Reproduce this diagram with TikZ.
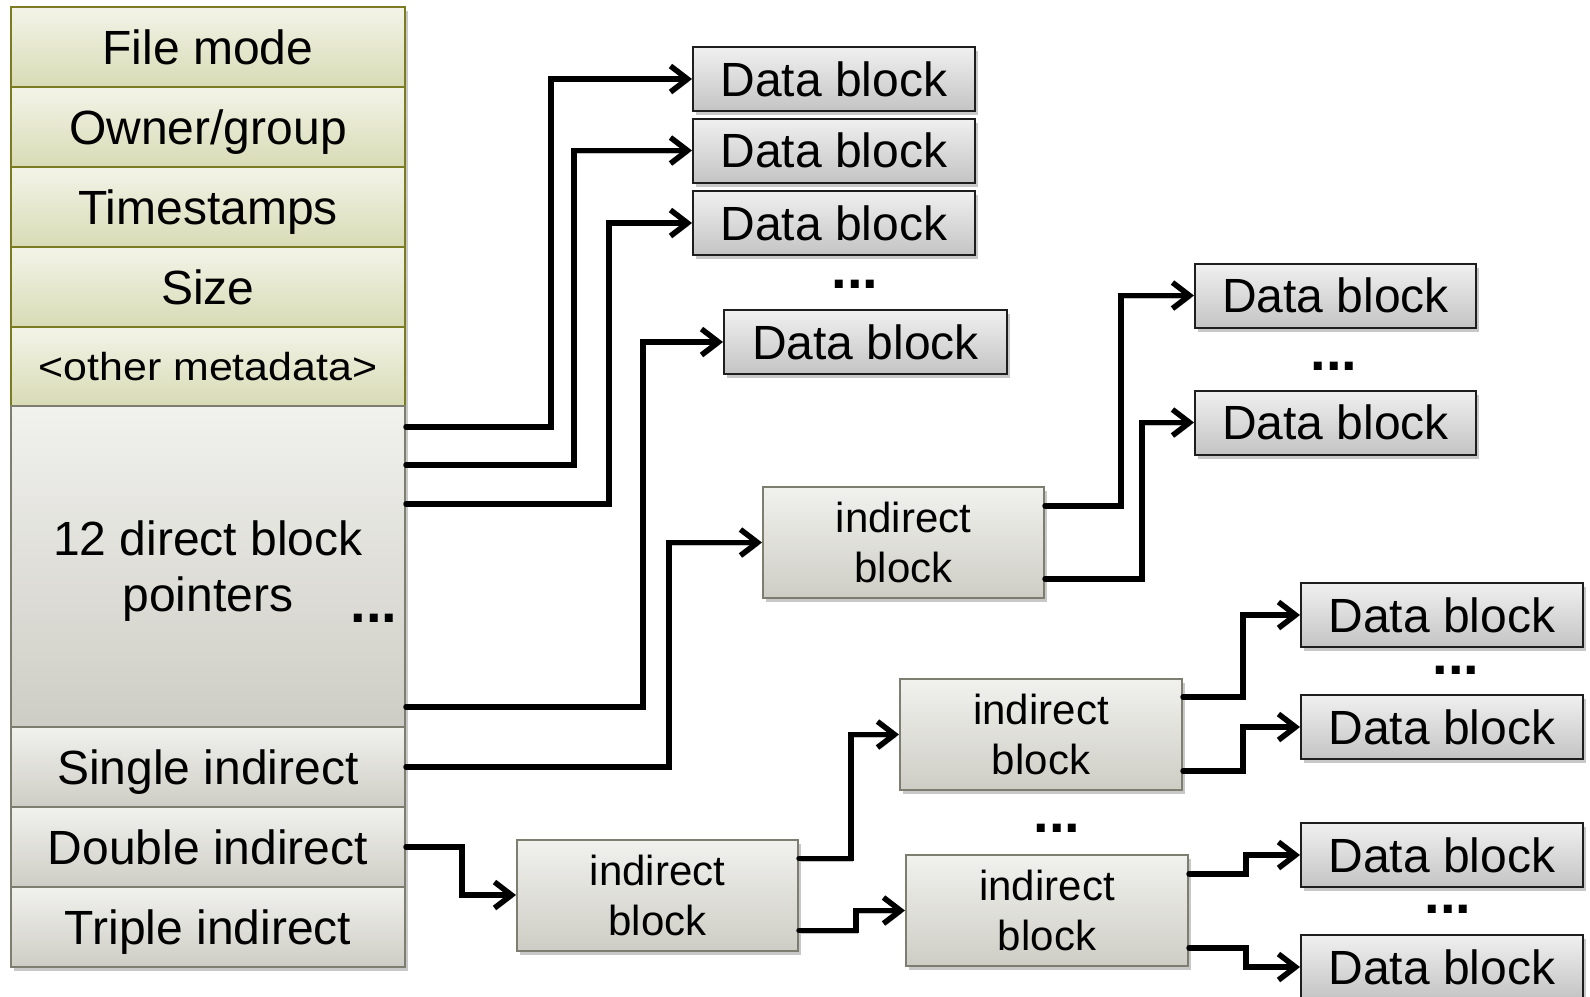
\documentclass[tikz,border=0pt]{standalone}
\usepackage{fontspec}
\usepackage{graphicx}
\setmainfont{Liberation Sans}
\usetikzlibrary{arrows.meta,shadows,calc}
\definecolor{grnTop}{HTML}{F3F4E8}
\definecolor{grnBot}{HTML}{D8DBB5}
\definecolor{grnLine}{HTML}{7B7B22}
\definecolor{gryTop}{HTML}{F1F1EE}
\definecolor{gryBot}{HTML}{CECDC5}
\definecolor{gryLine}{HTML}{7D7D70}
\definecolor{dbTop}{HTML}{F0F0F0}
\definecolor{dbBot}{HTML}{C4C4C4}
\definecolor{dbLine}{HTML}{1E1E1E}
\tikzset{
  bigfont/.style={font=\fontsize{48}{57}\selectfont},
  shad/.style={drop shadow={shadow xshift=3pt, shadow yshift=-4pt, opacity=0.3, fill=black!70}},
  row/.style={line width=2pt, minimum width=394pt, inner sep=0pt, bigfont, text height=34pt, text depth=0pt, shad},
  greenrow/.style={row, draw=grnLine, top color=grnTop, bottom color=grnBot, minimum height=80pt},
  grayrow/.style={row, draw=gryLine, top color=gryTop, bottom color=gryBot, minimum height=80pt},
  datablock/.style={draw=dbLine, line width=2pt, top color=dbTop, bottom color=dbBot, minimum width=282pt, minimum height=64pt, inner sep=0pt, bigfont, text height=34pt, text depth=0pt, shad},
  indblock/.style={draw=gryLine, line width=2pt, top color=gryTop, bottom color=gryBot, minimum width=281pt, minimum height=111pt, inner sep=0pt, align=center, font=\fontsize{42}{50}\selectfont, shad},
  dotstext/.style={inner sep=0pt, font=\fontsize{56}{60}\selectfont\bfseries},
  conn/.style={line width=5.5pt, line cap=round, line join=miter, -{Straight Barb[length=17pt,width=26pt]},
    preaction={draw=black!70, opacity=0.35, transform canvas={xshift=1.5pt,yshift=-2.5pt}}},
}
\begin{document}
\begin{tikzpicture}[x=1pt,y=-1pt]
\useasboundingbox (0,0) rectangle (1590,996);
\fill[white] (0,0) rectangle (1590,996);

% inode table
\node[greenrow] (fm) at (208,47) {File mode};
\node[greenrow] (og) at (208,127) {Owner/group};
\node[greenrow] (ts) at (208,207) {Timestamps};
\node[greenrow] (sz) at (208,287) {Size};
\node[greenrow, minimum height=79pt, font=\fontsize{39}{46}\selectfont, text height=28pt] (om) at (208,366.5) {\scalebox{1.1}[1]{<other metadata>}};
\node[draw=gryLine, line width=2pt, top color=gryTop, bottom color=gryBot, minimum width=394pt, minimum height=321pt, inner sep=0pt, align=center, font=\fontsize{48}{56}\selectfont, text depth=0pt, shad] (dir) at (208,566.5) {12 direct block\\pointers};
\node[dotstext] (dirdots) at (374,618) {...};
\node[grayrow] (si) at (208,767) {Single indirect};
\node[grayrow] (di) at (208,847) {Double indirect};
\node[grayrow] (ti) at (208,927) {Triple indirect};

% direct data blocks
\node[datablock] (db1) at (834,79) {Data block};
\node[datablock] (db2) at (834,150.5) {Data block};
\node[datablock] (db3) at (834,223) {Data block};
\node[dotstext] (dbdots) at (855,284) {...};
\node[datablock, minimum width=283pt] (db4) at (865.5,342) {Data block};

% single indirect
\node[indblock] (ib1) at (903.5,542.5) {indirect\\block};
\node[datablock, minimum width=281pt] (dba1) at (1335.5,295.5) {Data block};
\node[dotstext] (dbadots) at (1334,366) {...};
\node[datablock, minimum width=281pt] (dba2) at (1335.5,422.5) {Data block};

% double indirect
\node[indblock] (ib2) at (657.5,895) {indirect\\block};
\node[indblock, minimum width=282pt] (ib3) at (1041,734.5) {indirect\\block};
\node[dotstext] (ibdots) at (1057,828) {...};
\node[indblock, minimum width=282pt] (ib4) at (1047,910.5) {indirect\\block};
\node[datablock] (dbb1) at (1442,615) {Data block};
\node[dotstext] (dbbdots1) at (1456,670) {...};
\node[datablock] (dbb2) at (1442,727) {Data block};
\node[datablock] (dbb3) at (1442,855) {Data block};
\node[dotstext] (dbbdots2) at (1448,909) {...};
\node[datablock] (dbb4) at (1442,967) {Data block};

% connectors
\draw[conn] ([yshift=-22pt]dir.north east) -- ++(145,0) |- (db1.west);
\draw[conn] ([yshift=-60pt]dir.north east) -- ++(168,0) |- (db2.west);
\draw[conn] ([yshift=-99pt]dir.north east) -- ++(203,0) |- (db3.west);
\draw[conn] ([yshift=21pt]dir.south east) -- ++(237,0) |- (db4.west);
\draw[conn] (si.east) -- ++(263,0) |- (ib1.west);
\draw[conn] ([yshift=-20pt]ib1.north east) -- ++(76,0) |- (dba1.west);
\draw[conn] ([yshift=20pt]ib1.south east) -- ++(97,0) |- (dba2.west);
\draw[conn] (di.east) -- ++(56,0) |- (ib2.west);
\draw[conn] ([yshift=-20pt]ib2.north east) -- ++(52,0) |- (ib3.west);
\draw[conn] ([yshift=21pt]ib2.south east) -- ++(57,0) |- (ib4.west);
\draw[conn] ([yshift=-19pt]ib3.north east) -- ++(60,0) |- (dbb1.west);
\draw[conn] ([yshift=20pt]ib3.south east) -- ++(60,0) |- (dbb2.west);
\draw[conn] ([yshift=-20pt]ib4.north east) -- ++(57,0) |- (dbb3.west);
\draw[conn] ([yshift=19pt]ib4.south east) -- ++(57,0) |- (dbb4.west);
\end{tikzpicture}
\end{document}
